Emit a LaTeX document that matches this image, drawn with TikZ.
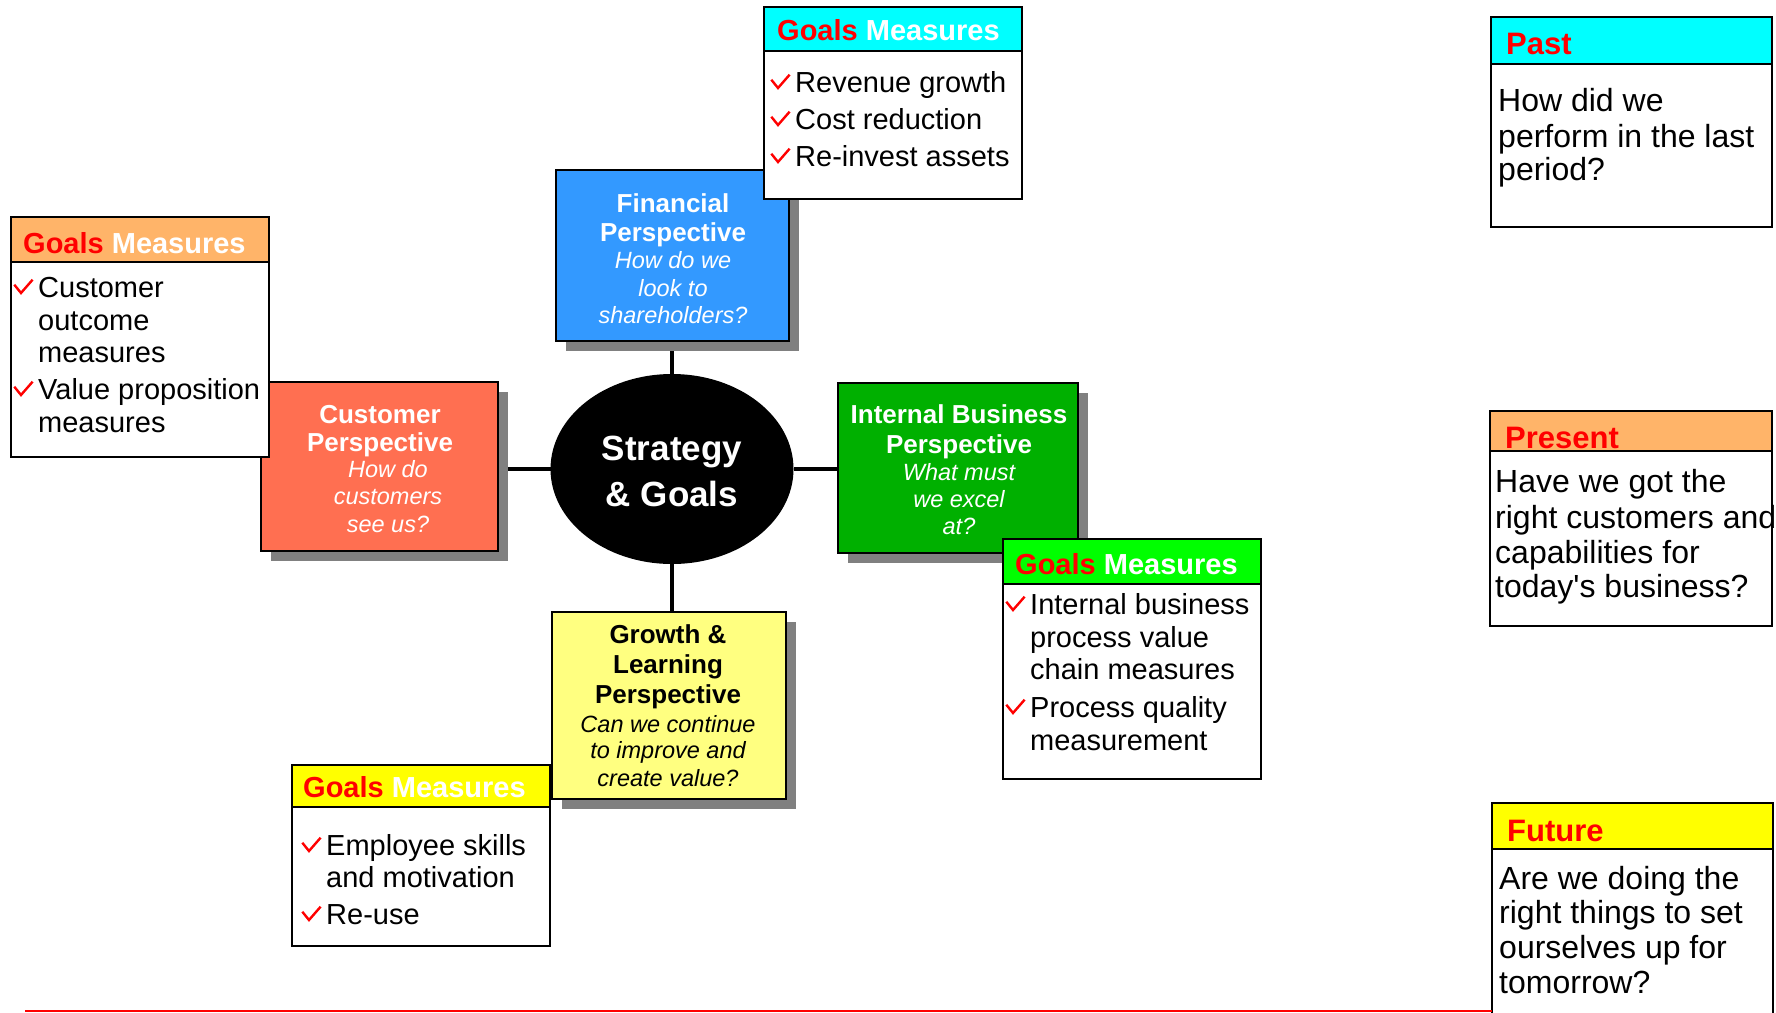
\documentclass[tikz,border=0pt]{standalone}
\usepackage{fontspec}
\setmainfont{Liberation Sans}[Ligatures=TeXOff]
\usetikzlibrary{shapes.geometric,backgrounds}

\definecolor{finblue}{HTML}{3399FF}
\definecolor{custred}{HTML}{FF6F51}
\definecolor{intgreen}{HTML}{00B000}
\definecolor{growyellow}{HTML}{FFFF80}
\definecolor{hdcyan}{HTML}{00FFFF}
\definecolor{hdorange}{HTML}{FFB469}
\definecolor{hdgreen}{HTML}{00FF00}
\definecolor{hdyellow}{HTML}{FFFF00}
\definecolor{shadowgray}{HTML}{808080}

\tikzset{
  x=1pt, y=-1pt,
  box/.style={draw=black, line width=2pt, inner sep=0pt, outer sep=0pt, anchor=north west},
  link/.style={line width=3.5pt, black},
  ptitle/.style={font=\fontsize{26}{28}\selectfont\bfseries, anchor=base, inner sep=0pt},
  pquest/.style={font=\fontsize{23.5}{28}\selectfont\itshape, anchor=base, inner sep=0pt},
  ghead/.style={font=\fontsize{29}{32}\selectfont\bfseries, anchor=base west, inner sep=0pt},
  gitem/.style={font=\fontsize{29}{32}\selectfont, anchor=base west, inner sep=0pt},
  thead/.style={font=\fontsize{31}{34}\selectfont\bfseries, text=red, anchor=base west, inner sep=0pt},
  titem/.style={font=\fontsize{32}{34}\selectfont, anchor=base west, inner sep=0pt},
  tick/.pic={\draw[red, line width=2.4pt] (-6.7,-8.3) -- (0,0) -- (11.6,-13.3);}
}

\begin{document}
\begin{tikzpicture}
\useasboundingbox (0,0) rectangle (1776,1012);

% ---- perspective boxes and the core ----
\node[box, fill=custred,    minimum width=237pt, minimum height=169pt] (cust) at (261,382) {};
\node[box, fill=finblue,    minimum width=233pt, minimum height=171pt] (fin)  at (556,170) {};
\node[box, fill=intgreen,   minimum width=240pt, minimum height=170pt] (int)  at (838,383) {};
\node[box, fill=growyellow, minimum width=234pt, minimum height=187pt] (grow) at (552,612) {};
\node[ellipse, fill=black, minimum width=243pt, minimum height=190pt, inner sep=0pt, outer sep=0pt] (core) at (672,469) {};

% ---- links and drop shadows, behind the boxes ----
\begin{scope}[on background layer]
  \draw[link] (core.north) -- (core.north |- fin.south);
  \draw[link] (core.south) -- (core.south |- grow.north);
  \draw[link] (core.west) -- (core.west -| cust.east);
  \draw[link] (core.east) -- (core.east -| int.west);
  \foreach \b in {cust,fin,int,grow}
    \fill[shadowgray] ([shift={(10,10)}]\b.north west) rectangle ([shift={(10,10)}]\b.south east);
\end{scope}

% ---- core text ----
\node[font=\fontsize{35}{46}\selectfont\bfseries, text=white, anchor=base, inner sep=0pt] (core1) at (672,460) {Strategy};
\node[font=\fontsize{35}{46}\selectfont\bfseries, text=white, anchor=base, inner sep=0pt] (core2) at (672,506) {\& Goals};

% ---- perspective texts ----
\node[ptitle, text=white] (ct1) at (380,423) {Customer};
\node[ptitle, text=white] (ct2) at (380,451) {Perspective};
\foreach \t/\y [count=\i] in {How do/477, customers/504, see us?/532}
  \node[pquest, text=white] (cq\i) at (388,\y) {\t};

\node[ptitle, text=white] (ft1) at (673,212) {Financial};
\node[ptitle, text=white] (ft2) at (673,241) {Perspective};
\foreach \t/\y [count=\i] in {How do we/268, look to/296, shareholders?/323}
  \node[pquest, text=white] (fq\i) at (673,\y) {\t};

\node[ptitle, text=white] (it1) at (959,423) {Internal Business};
\node[ptitle, text=white] (it2) at (959,453) {Perspective};
\foreach \t/\y [count=\i] in {What must/480, we excel/507, at?/534}
  \node[pquest, text=white] (iq\i) at (959,\y) {\t};

\node[ptitle, text=black] (gt1) at (668,643) {Growth \&};
\node[ptitle, text=black] (gt2) at (668,673) {Learning};
\node[ptitle, text=black] (gt3) at (668,703) {Perspective};
\foreach \t/\y [count=\i] in {Can we continue/732, to improve and/758, create value?/786}
  \node[pquest, text=black] (gq\i) at (668,\y) {\t};

% ---- goals / measures boxes ----
% customer
\node[box, fill=white,    minimum width=258pt, minimum height=240pt] (cg)  at (11,217) {};
\node[box, fill=hdorange, minimum width=258pt, minimum height=45pt]  (cgh) at (11,217) {};
\node[ghead] (cghead) at (23,253) {\textcolor{red}{Goals} \textcolor{white}{Measures}};
\foreach \t/\y [count=\i] in {Customer/297, outcome/330, measures/362, Value proposition/399, measures/432}
  \node[gitem] (cgt\i) at (38,\y) {\t};
\pic at (21,293) {tick};
\pic at (21,395) {tick};

% financial
\node[box, fill=white,  minimum width=258pt, minimum height=192pt] (fg)  at (764,7) {};
\node[box, fill=hdcyan, minimum width=258pt, minimum height=44pt]  (fgh) at (764,7) {};
\node[ghead] (fghead) at (777,40) {\textcolor{red}{Goals} \textcolor{white}{Measures}};
\foreach \t/\y [count=\i] in {Revenue growth/92, Cost reduction/129, Re-invest assets/166}
  \node[gitem] (fgt\i) at (795,\y) {\t};
\pic at (778,88) {tick};
\pic at (778,125) {tick};
\pic at (778,162) {tick};

% internal business
\node[box, fill=white,   minimum width=258pt, minimum height=240pt] (ig)  at (1003,539) {};
\node[box, fill=hdgreen, minimum width=258pt, minimum height=45pt]  (igh) at (1003,539) {};
\node[ghead] (ighead) at (1015,574) {\textcolor{red}{Goals} \textcolor{white}{Measures}};
\foreach \t/\y [count=\i] in {Internal business/614, process value/647, chain measures/679, Process quality/717, measurement/750}
  \node[gitem] (igt\i) at (1030,\y) {\t};
\pic at (1013,610) {tick};
\pic at (1013,713) {tick};

% growth & learning
\node[box, fill=white,    minimum width=258pt, minimum height=181pt] (gg)  at (291.5,765) {};
\node[box, fill=hdyellow, minimum width=258pt, minimum height=42pt]  (ggh) at (291.5,765) {};
\node[ghead] (gghead) at (303,797) {\textcolor{red}{Goals} \textcolor{white}{Measures}};
\foreach \t/\y [count=\i] in {Employee skills/855, and motivation/887, Re-use/924}
  \node[gitem] (ggt\i) at (326,\y) {\t};
\pic at (309,851) {tick};
\pic at (309,920) {tick};

% ---- time frame boxes ----
\node[box, fill=white,  minimum width=281pt, minimum height=210pt] (past)  at (1491,17) {};
\node[box, fill=hdcyan, minimum width=281pt, minimum height=47pt]  (pasth) at (1491,17) {};
\node[thead] (pastt) at (1506,54) {Past};
\foreach \t/\y [count=\i] in {How did we/111, perform in the last/147, period?/180}
  \node[titem] (pastl\i) at (1498,\y) {\t};

\node[box, fill=white,    minimum width=282pt, minimum height=215pt] (pres)  at (1490,411) {};
\node[box, fill=hdorange, minimum width=282pt, minimum height=40pt]  (presh) at (1490,411) {};
\node[thead] (prest) at (1505,448) {Present};
\foreach \t/\y [count=\i] in {Have we got the/492, right customers and/528, capabilities for/563, today's business?/597}
  \node[titem] (presl\i) at (1495,\y) {\t};

\node[box, fill=white,    minimum width=281pt, minimum height=250pt] (fut)  at (1492,803) {};
\node[box, fill=hdyellow, minimum width=281pt, minimum height=46pt]  (futh) at (1492,803) {};
\node[thead] (futt) at (1507,841) {Future};
\foreach \t/\y [count=\i] in {Are we doing the/889, right things to set/923, ourselves up for/958, tomorrow?/993}
  \node[titem] (futl\i) at (1499,\y) {\t};

% ---- red base rule ----
\coordinate (rulestart) at (25,1010.5);
\draw[red, line width=2pt] (rulestart) -- (rulestart -| fut.west);
\end{tikzpicture}
\end{document}
